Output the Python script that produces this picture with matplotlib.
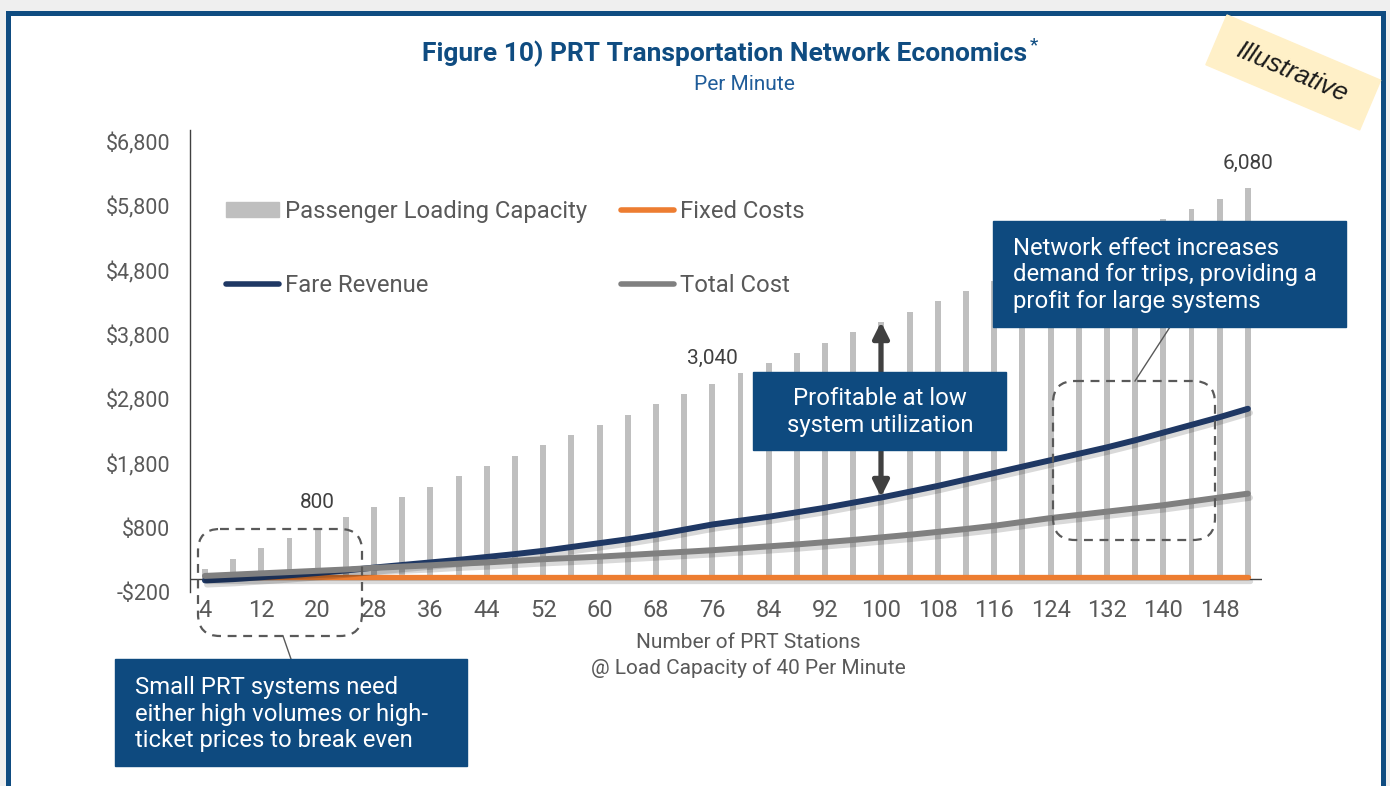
import numpy as np
import matplotlib
matplotlib.use("Agg")
from matplotlib import pyplot as plt
from matplotlib.patches import Rectangle, FancyBboxPatch, Polygon, Patch
from matplotlib.lines import Line2D
from matplotlib.ticker import FuncFormatter
import matplotlib.patheffects as pe

plt.rcParams['font.family'] = ['Roboto', 'DejaVu Sans']

# number of PRT stations (categories)
stations = [4, 8, 12, 16, 20, 24, 28, 32, 36, 40, 44, 48, 52, 56, 60, 64, 68, 72, 76,
            80, 84, 88, 92, 96, 100, 104, 108, 112, 116, 120, 124, 128, 132, 136, 140,
            144, 148, 152]
# passenger loading capacity per minute
capacity = [160, 320, 480, 640, 800, 960, 1120, 1280, 1440, 1600, 1760, 1920, 2080,
            2240, 2400, 2560, 2720, 2880, 3040, 3200, 3360, 3520, 3680, 3840, 4000,
            4160, 4320, 4480, 4640, 4800, 4960, 5120, 5280, 5440, 5600, 5760, 5920, 6080]
fare_revenue = [-20, 0, 30, 60, 95, 135, 180, 220, 260, 300, 345, 390, 440, 500, 560,
                620, 690, 770, 850, 910, 970, 1040, 1110, 1190, 1270, 1360, 1450, 1550,
                1650, 1750, 1850, 1950, 2050, 2160, 2280, 2400, 2520, 2650]
total_cost = [50, 70, 90, 110, 130, 150, 175, 195, 215, 240, 260, 285, 310, 330, 350,
              375, 400, 425, 450, 480, 510, 540, 575, 610, 650, 690, 735, 780, 830, 890,
              950, 1000, 1050, 1100, 1150, 1210, 1270, 1330]
fixed_costs = [40] * 38
labelled = [20, 76, 152]   # stations with data labels
yticks = [-200, 800, 1800, 2800, 3800, 4800, 5800, 6800]

W, H = 1390, 786
fig = plt.figure(figsize=(W / 100, H / 100), dpi=100, facecolor='#efefef')

def fx(x):
    return x / W

def fy(y):
    return 1 - y / H

# white panel with blue frame
fig.add_artist(Rectangle((fx(7.5), fy(800)), fx(1375), (800 - 13.5) / H,
                         transform=fig.transFigure, facecolor='white',
                         edgecolor='#0f4c81', lw=3.6, zorder=-5))

ax = fig.add_axes([fx(190), fy(592), fx(1262 - 190), (592 - 130) / H])
ax.set_facecolor('none')

x = np.arange(len(stations))
ax.bar(x, capacity, width=0.21, color='#bfbfbf', zorder=1)
ax.axhline(0, color='#404040', lw=1, zorder=1.5)

shadow = [pe.SimpleLineShadow(offset=(1.5, -3), shadow_color='k', alpha=0.15), pe.Normal()]
ax.plot(x, fixed_costs, color='#ed7d31', lw=3.8, zorder=2, solid_capstyle='round', path_effects=shadow)
ax.plot(x, fare_revenue, color='#1f3864', lw=4.3, zorder=3, solid_capstyle='round', path_effects=shadow)
ax.plot(x, total_cost, color='#808080', lw=4.3, zorder=4, solid_capstyle='round', path_effects=shadow)

for s in labelled:
    i = stations.index(s)
    ax.annotate(f"{capacity[i]:,}", (x[i], capacity[i]), xytext=(0, 18),
                textcoords='offset points', ha='center', va='center',
                fontsize=15, color='#404040')

ax.set_xlim(-0.53, 37.5)
ax.set_ylim(-200, 6986)
ax.set_yticks(yticks)
ax.yaxis.set_major_formatter(FuncFormatter(lambda v, p: f"-${abs(v):,.0f}" if v < 0 else f"${v:,.0f}"))
ax.set_xticks(x[::2])
ax.set_xticklabels([str(s) for s in stations[::2]])
ax.tick_params(axis='x', length=0, pad=5, labelsize=17, labelcolor='#595959')
ax.tick_params(axis='y', length=0, pad=14, labelsize=15.5, labelcolor='#595959')
for side in ['top', 'right', 'bottom']:
    ax.spines[side].set_visible(False)
ax.spines['left'].set_color('#404040')
ax.spines['left'].set_linewidth(1)

ax.set_xlabel("Number of PRT Stations\n@ Load Capacity of 40 Per Minute",
              fontsize=15, color='#595959', linespacing=1.4)
ax.xaxis.set_label_coords((748 - 190) / 1072, (592 - 633) / 462)

handles = [Patch(color='#bfbfbf'),
           Line2D([], [], color='#1f3864', lw=4, solid_capstyle='round'),
           Line2D([], [], color='#ed7d31', lw=4, solid_capstyle='round'),
           Line2D([], [], color='#808080', lw=4, solid_capstyle='round')]
names = ["Passenger Loading Capacity", "Fare Revenue", "Fixed Costs", "Total Cost"]
leg = ax.legend(handles, names, ncol=2, loc='upper left', frameon=False,
                bbox_to_anchor=(fx(226), fy(200)), bbox_transform=fig.transFigure,
                fontsize=17.2, handlelength=2.2, handletextpad=0.25, borderpad=0,
                columnspacing=1.45, labelspacing=2.15, handleheight=0.6,
                borderaxespad=0)
for t in leg.get_texts():
    t.set_color('#595959')

# overlay in pixel coordinates for callouts
ov = fig.add_axes([0, 0, 1, 1], zorder=10)
ov.set_xlim(0, W)
ov.set_ylim(H, 0)
ov.axis('off')

box_blue = '#0e4a7f'
ov.annotate('', xy=(881, 322), xytext=(881, 497),
            arrowprops=dict(arrowstyle='<|-|>', color='#404040', lw=3.5,
                            mutation_scale=24, shrinkA=0, shrinkB=0), zorder=1)
ov.add_patch(Rectangle((753, 372), 253, 78, color=box_blue, zorder=2))
ov.text(880, 412, "Profitable at low\nsystem utilization", color='white', fontsize=17.2,
        ha='center', va='center', linespacing=1.2, zorder=3)

ov.add_patch(Rectangle((993, 221), 353, 106, color=box_blue, zorder=2))
ov.text(1013, 275, "Network effect increases\ndemand for trips, providing a\nprofit for large systems",
        color='white', fontsize=17.2, ha='left', va='center', linespacing=1.2, zorder=3)

ov.add_patch(Rectangle((115, 659), 352, 107, color=box_blue, zorder=2))
ov.text(135, 714, "Small PRT systems need\neither high volumes or high-\nticket prices to break even",
        color='white', fontsize=17.2, ha='left', va='center', linespacing=1.2, zorder=3)

for (bx, by, bw, bh) in [(198, 529, 164, 107), (1053, 381, 162, 159)]:
    ov.add_patch(FancyBboxPatch((bx, by), bw, bh, boxstyle='round,pad=0,rounding_size=22',
                                fill=False, ec='#595959', lw=1.6, ls=(0, (4, 3)), zorder=1))
ov.plot([283, 291], [636, 659], color='#595959', lw=1, zorder=1)
ov.plot([1135, 1170], [381, 327], color='#595959', lw=1, zorder=1)

# sticky note
ang = np.deg2rad(23)
u = np.array([np.cos(ang), np.sin(ang)])
v = np.array([-np.sin(ang), np.cos(ang)])
p0 = np.array([1227, 15])
ov.add_patch(Polygon([p0, p0 + 167 * u, p0 + 167 * u + 54 * v, p0 + 54 * v],
                     closed=True, color='#fff0c8', zorder=4))
c = p0 + 83 * u + 27 * v
ov.text(c[0], c[1], "Illustrative", rotation=-23, rotation_mode='anchor', ha='center', va='center',
        fontsize=19, style='italic', family=['Liberation Sans', 'DejaVu Sans'],
        color='#1a1a1a', zorder=5)

# title
title = ov.text(725, 54, "Figure 10) PRT Transportation Network Economics", ha='center', va='center',
                fontsize=19, weight='bold', color='#0f4c81')
ov.text(744, 85, "Per Minute", ha='center', va='center', fontsize=15, color='#1f5c99')
fig.canvas.draw()
bb = title.get_window_extent()
ov.text(bb.x1 + 2, 45, "*", ha='left', va='center', fontsize=14, color='#0f4c81')

fig.savefig("out.png", dpi=100, facecolor=fig.get_facecolor())
